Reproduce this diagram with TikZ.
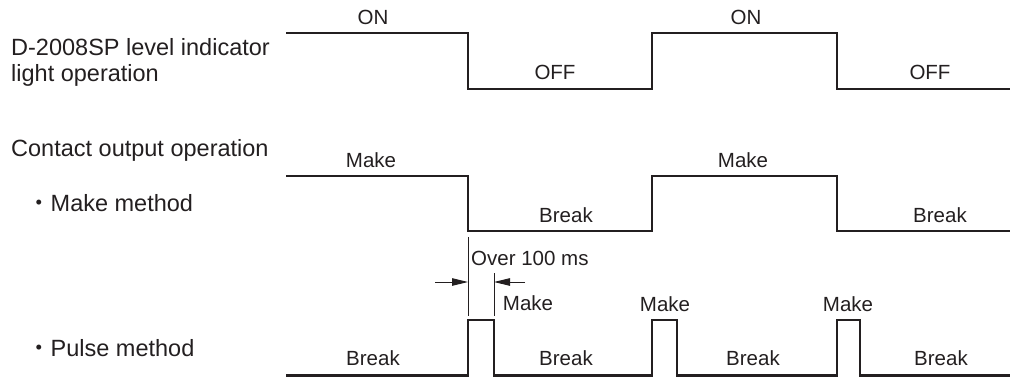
\documentclass[tikz,border=0pt]{standalone}
\usepackage{fontspec}
\setmainfont{Liberation Sans}
\newfontfamily\cjkfont{Noto Sans CJK JP}
\usetikzlibrary{arrows.meta}
\definecolor{ink}{RGB}{35,31,32}
\begin{document}
\begin{tikzpicture}[x=1pt,y=-1pt,
  sig/.style={draw=ink, line width=2.4pt, line join=miter},
  dimline/.style={draw=ink, line width=0.9pt},
  dimarrow/.style={dimline, -{Triangle[length=16pt,width=7.5pt]}},
  lbl/.style={anchor=base, inner sep=0pt, text=ink, font=\fontsize{20.5}{24}\selectfont},
  side/.style={anchor=base west, inner sep=0pt, text=ink, font=\fontsize{23.5}{28}\selectfont}]
\useasboundingbox (0,0) rectangle (1010,376);

% side labels
\node[side] (l1) at (11,55) {D-2008SP level indicator};
\node[side] (l2) at (11,81.7) {light operation};
\node[side] (l3) at (11,156.7) {Contact output operation};
\node[side] (l4) at (27,211.7) {{\cjkfont ・}Make method};
\node[side] (l5) at (27,356.7) {{\cjkfont ・}Pulse method};

% indicator light signal
\coordinate (a0) at (286,33);
\coordinate (a1) at (468,89);
\coordinate (a2) at (652,33);
\coordinate (a3) at (837,89);
\coordinate (a4) at (1012,89);
\draw[sig] (a0) -| (a1) -| (a2) -| (a3) -- (a4);
\node[lbl] (on1) at (373,24) {ON};
\node[lbl] (off1) at (555,79.3) {OFF};
\node[lbl] (on2) at (746,24) {ON};
\node[lbl] (off2) at (930,79.3) {OFF};

% make method signal
\coordinate (b0) at (286,176);
\coordinate (b1) at (468,231);
\coordinate (b2) at (652,176);
\coordinate (b3) at (837,231);
\coordinate (b4) at (1012,231);
\draw[sig] (b0) -| (b1) -| (b2) -| (b3) -- (b4);
\node[lbl] (mk1) at (371,167.3) {Make};
\node[lbl] (br1) at (566,222.7) {Break};
\node[lbl] (mk2) at (743,167.3) {Make};
\node[lbl] (br2) at (940,222.7) {Break};

% pulse method signal
\coordinate (p0) at (286,375.6);
\coordinate (p1) at (468,375.6);
\coordinate (p2) at (494,320);
\coordinate (p3) at (652,375.6);
\coordinate (p4) at (677,320);
\coordinate (p5) at (837,375.6);
\coordinate (p6) at (860,320);
\coordinate (p7) at (1012,375.6);
\draw[sig] (p0) -- (p1) |- (p2) |- (p3) |- (p4) |- (p5) |- (p6) |- (p7);
\node[lbl] (pb1) at (373,365) {Break};
\node[lbl] (pb2) at (566,365) {Break};
\node[lbl] (pb3) at (753,365) {Break};
\node[lbl] (pb4) at (941,365) {Break};
\node[lbl] (pm1) at (528,310) {Make};
\node[lbl] (pm2) at (665,311) {Make};
\node[lbl] (pm3) at (848,311) {Make};

% dimension
\coordinate (d1t) at (468,237);
\coordinate (d1b) at (468,316);
\coordinate (d2t) at (494,273);
\coordinate (d2b) at (494,316);
\draw[dimline] (d1t) -- (d1b);
\draw[dimline] (d2t) -- (d2b);
\coordinate (la) at (435,282);
\coordinate (lt) at (468,282);
\coordinate (ra) at (525,282);
\coordinate (rt) at (494,282);
\draw[dimarrow] (la) -- (lt);
\draw[dimarrow] (ra) -- (rt);
\node[lbl, anchor=base west] (ov) at (471,265) {Over 100 ms};
\end{tikzpicture}
\end{document}
